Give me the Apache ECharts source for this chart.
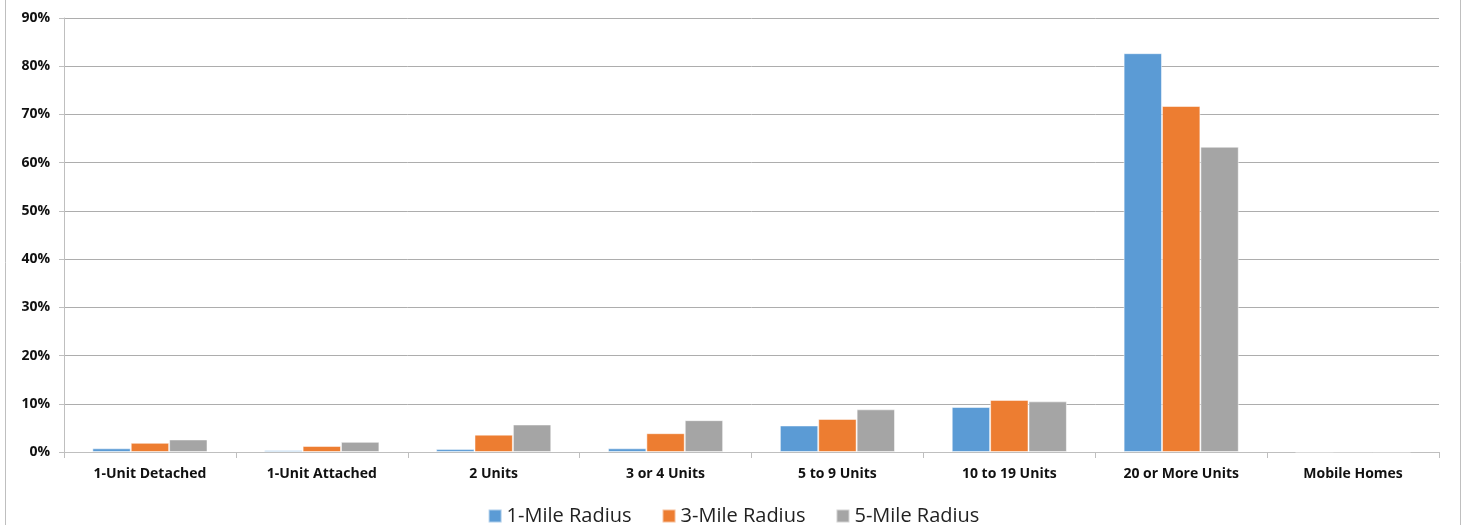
<!DOCTYPE html>
<html>
<head>
<meta charset="utf-8">
<script src="https://cdn.jsdelivr.net/npm/echarts@6/dist/echarts.min.js"></script>
<style>
  html, body { margin: 0; padding: 0; background: #fff; }
  #chart { width: 1467px; height: 525px; }
</style>
</head>
<body>
<div id="chart"></div>
<script>
const categories = ['1-Unit Detached', '1-Unit Attached', '2 Units', '3 or 4 Units', '5 to 9 Units', '10 to 19 Units', '20 or More Units', 'Mobile Homes'];
const oneMile = [0.77, 0.35, 0.6, 0.77, 5.5, 9.33, 82.7, 0];
const threeMile = [1.9, 1.25, 3.6, 3.9, 6.85, 10.8, 71.75, 0.05];
const fiveMile = [2.6, 2.1, 5.7, 6.6, 8.85, 10.5, 63.3, 0.03];
const seriesNames = ['1-Mile Radius', '3-Mile Radius', '5-Mile Radius'];
const colors = ['#5B9BD5', '#ED7D31', '#A5A5A5'];

const chart = echarts.init(document.getElementById('chart'));
const labelFont = '"Open Sans", "Liberation Sans", sans-serif';

const option = {
  animation: false,
  color: colors,
  graphic: [{
    type: 'rect',
    shape: { x: 5.5, y: -2, width: 1455, height: 530 },
    style: { fill: 'none', stroke: '#BFBFBF', lineWidth: 1 },
    silent: true
  }],
  grid: { left: 64, right: 28, top: 18, bottom: 73 },
  legend: {
    bottom: -6,
    left: 'center',
    itemWidth: 13,
    itemHeight: 13,
    itemGap: 30,
    icon: 'rect',
    textStyle: { fontFamily: labelFont, fontSize: 20, color: '#222' },
    data: seriesNames
  },
  xAxis: {
    type: 'category',
    data: categories,
    axisLine: { lineStyle: { color: '#BFBFBF' } },
    axisTick: { show: true, length: 6, lineStyle: { color: '#BFBFBF' } },
    axisLabel: { fontFamily: labelFont, fontWeight: 'bold', fontSize: 14, color: '#111', margin: 15 }
  },
  yAxis: {
    type: 'value',
    min: 0,
    max: 90,
    interval: 10,
    axisLine: { show: true, lineStyle: { color: '#BFBFBF' } },
    axisTick: { show: true, length: 5, lineStyle: { color: '#BFBFBF' } },
    splitLine: { lineStyle: { color: '#ADADAD' } },
    axisLabel: { formatter: '{value}%', fontFamily: labelFont, fontWeight: 'bold', fontSize: 14, color: '#111', margin: 14 }
  },
  series: [oneMile, threeMile, fiveMile].map((vals, i) => ({
    name: seriesNames[i],
    type: 'bar',
    data: vals,
    barGap: '0%',
    barCategoryGap: '33%',
    itemStyle: { borderColor: 'rgba(255,255,255,0.5)', borderWidth: 1 }
  }))
};

chart.setOption(option);
</script>
</body>
</html>
